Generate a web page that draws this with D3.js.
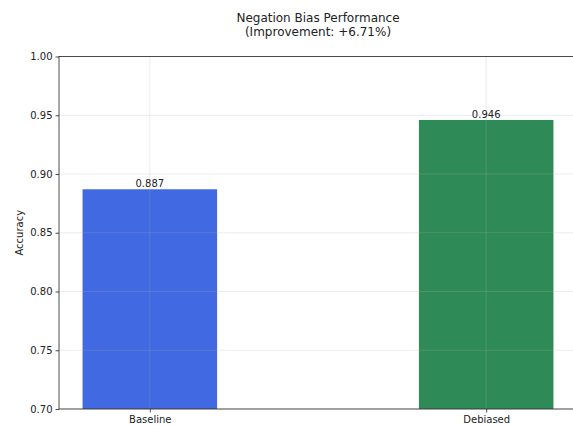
<!DOCTYPE html>
<html><head><meta charset="utf-8">
<script src="https://cdn.jsdelivr.net/npm/d3@7"></script>
<style>body{margin:0;background:#fff}svg{display:block}text{font-family:"DejaVu Sans",sans-serif;fill:#222}</style>
</head><body><svg id="c" width="573" height="425"></svg>
<script>
const categories = ["Baseline", "Debiased"];
const values = [0.887, 0.946];
const colors = ["#4169E1", "#2E8B57"];
const yTicks = [0.70, 0.75, 0.80, 0.85, 0.90, 0.95, 1.00];
const titleLines = ["Negation Bias Performance", "(Improvement: +6.71%)"];

const svg = d3.select("#c");
const L = 59, R = 577, T = 56.5, B = 409;
const x = d3.scaleLinear().domain([-0.27, 1.27]).range([L, R]);
const y = d3.scaleLinear().domain([0.70, 1.00]).range([B, T]);
const bw = x(0.4) - x(0);

// bars
svg.selectAll("rect.bar").data(values).join("rect")
  .attr("x", (d, i) => x(i) - bw / 2).attr("width", bw)
  .attr("y", d => y(d)).attr("height", d => B - y(d))
  .attr("fill", (d, i) => colors[i]);

// grid (over bars)
const g = svg.append("g").attr("stroke", "#b0b0b0").attr("stroke-opacity", 0.3).attr("stroke-width", 0.8);
yTicks.forEach(t => g.append("line").attr("x1", L).attr("x2", R).attr("y1", y(t)).attr("y2", y(t)));
categories.forEach((c, i) => g.append("line").attr("x1", x(i)).attr("x2", x(i)).attr("y1", T).attr("y2", B));

// axes
const ya = svg.append("g").attr("transform", `translate(${L},0)`)
  .call(d3.axisLeft(y).tickValues(yTicks).tickFormat(d3.format(".2f")).tickSize(3.5).tickPadding(3));
const xa = svg.append("g").attr("transform", `translate(0,${B})`)
  .call(d3.axisBottom(x).tickValues(categories.map((c, i) => i)).tickFormat(i => categories[i]).tickSize(3.5).tickPadding(3));
[ya, xa].forEach(a => {
  a.select(".domain").remove();
  a.selectAll("line").attr("stroke", "#222").attr("stroke-width", 0.8);
  a.selectAll("text").attr("font-size", 10).style("font-family", "DejaVu Sans").attr("fill", "#222");
});
// spines
const sp = svg.append("g").attr("stroke", "#222").attr("stroke-width", 0.8).attr("fill", "none");
sp.append("rect").attr("x", L).attr("y", T).attr("width", R - L).attr("height", B - T);

// value labels
svg.selectAll("text.val").data(values).join("text")
  .attr("x", (d, i) => x(i)).attr("y", d => y(d) - 2)
  .attr("text-anchor", "middle").attr("font-size", 10).text(d => d.toFixed(3));

// title
titleLines.forEach((t, i) => svg.append("text").attr("x", (L + R) / 2).attr("y", 22 + i * 14)
  .attr("text-anchor", "middle").attr("font-size", 12).text(t));

// y label
svg.append("text").attr("transform", `translate(23,${(T + B) / 2}) rotate(-90)`)
  .attr("text-anchor", "middle").attr("font-size", 10).text("Accuracy");
</script></body></html>
